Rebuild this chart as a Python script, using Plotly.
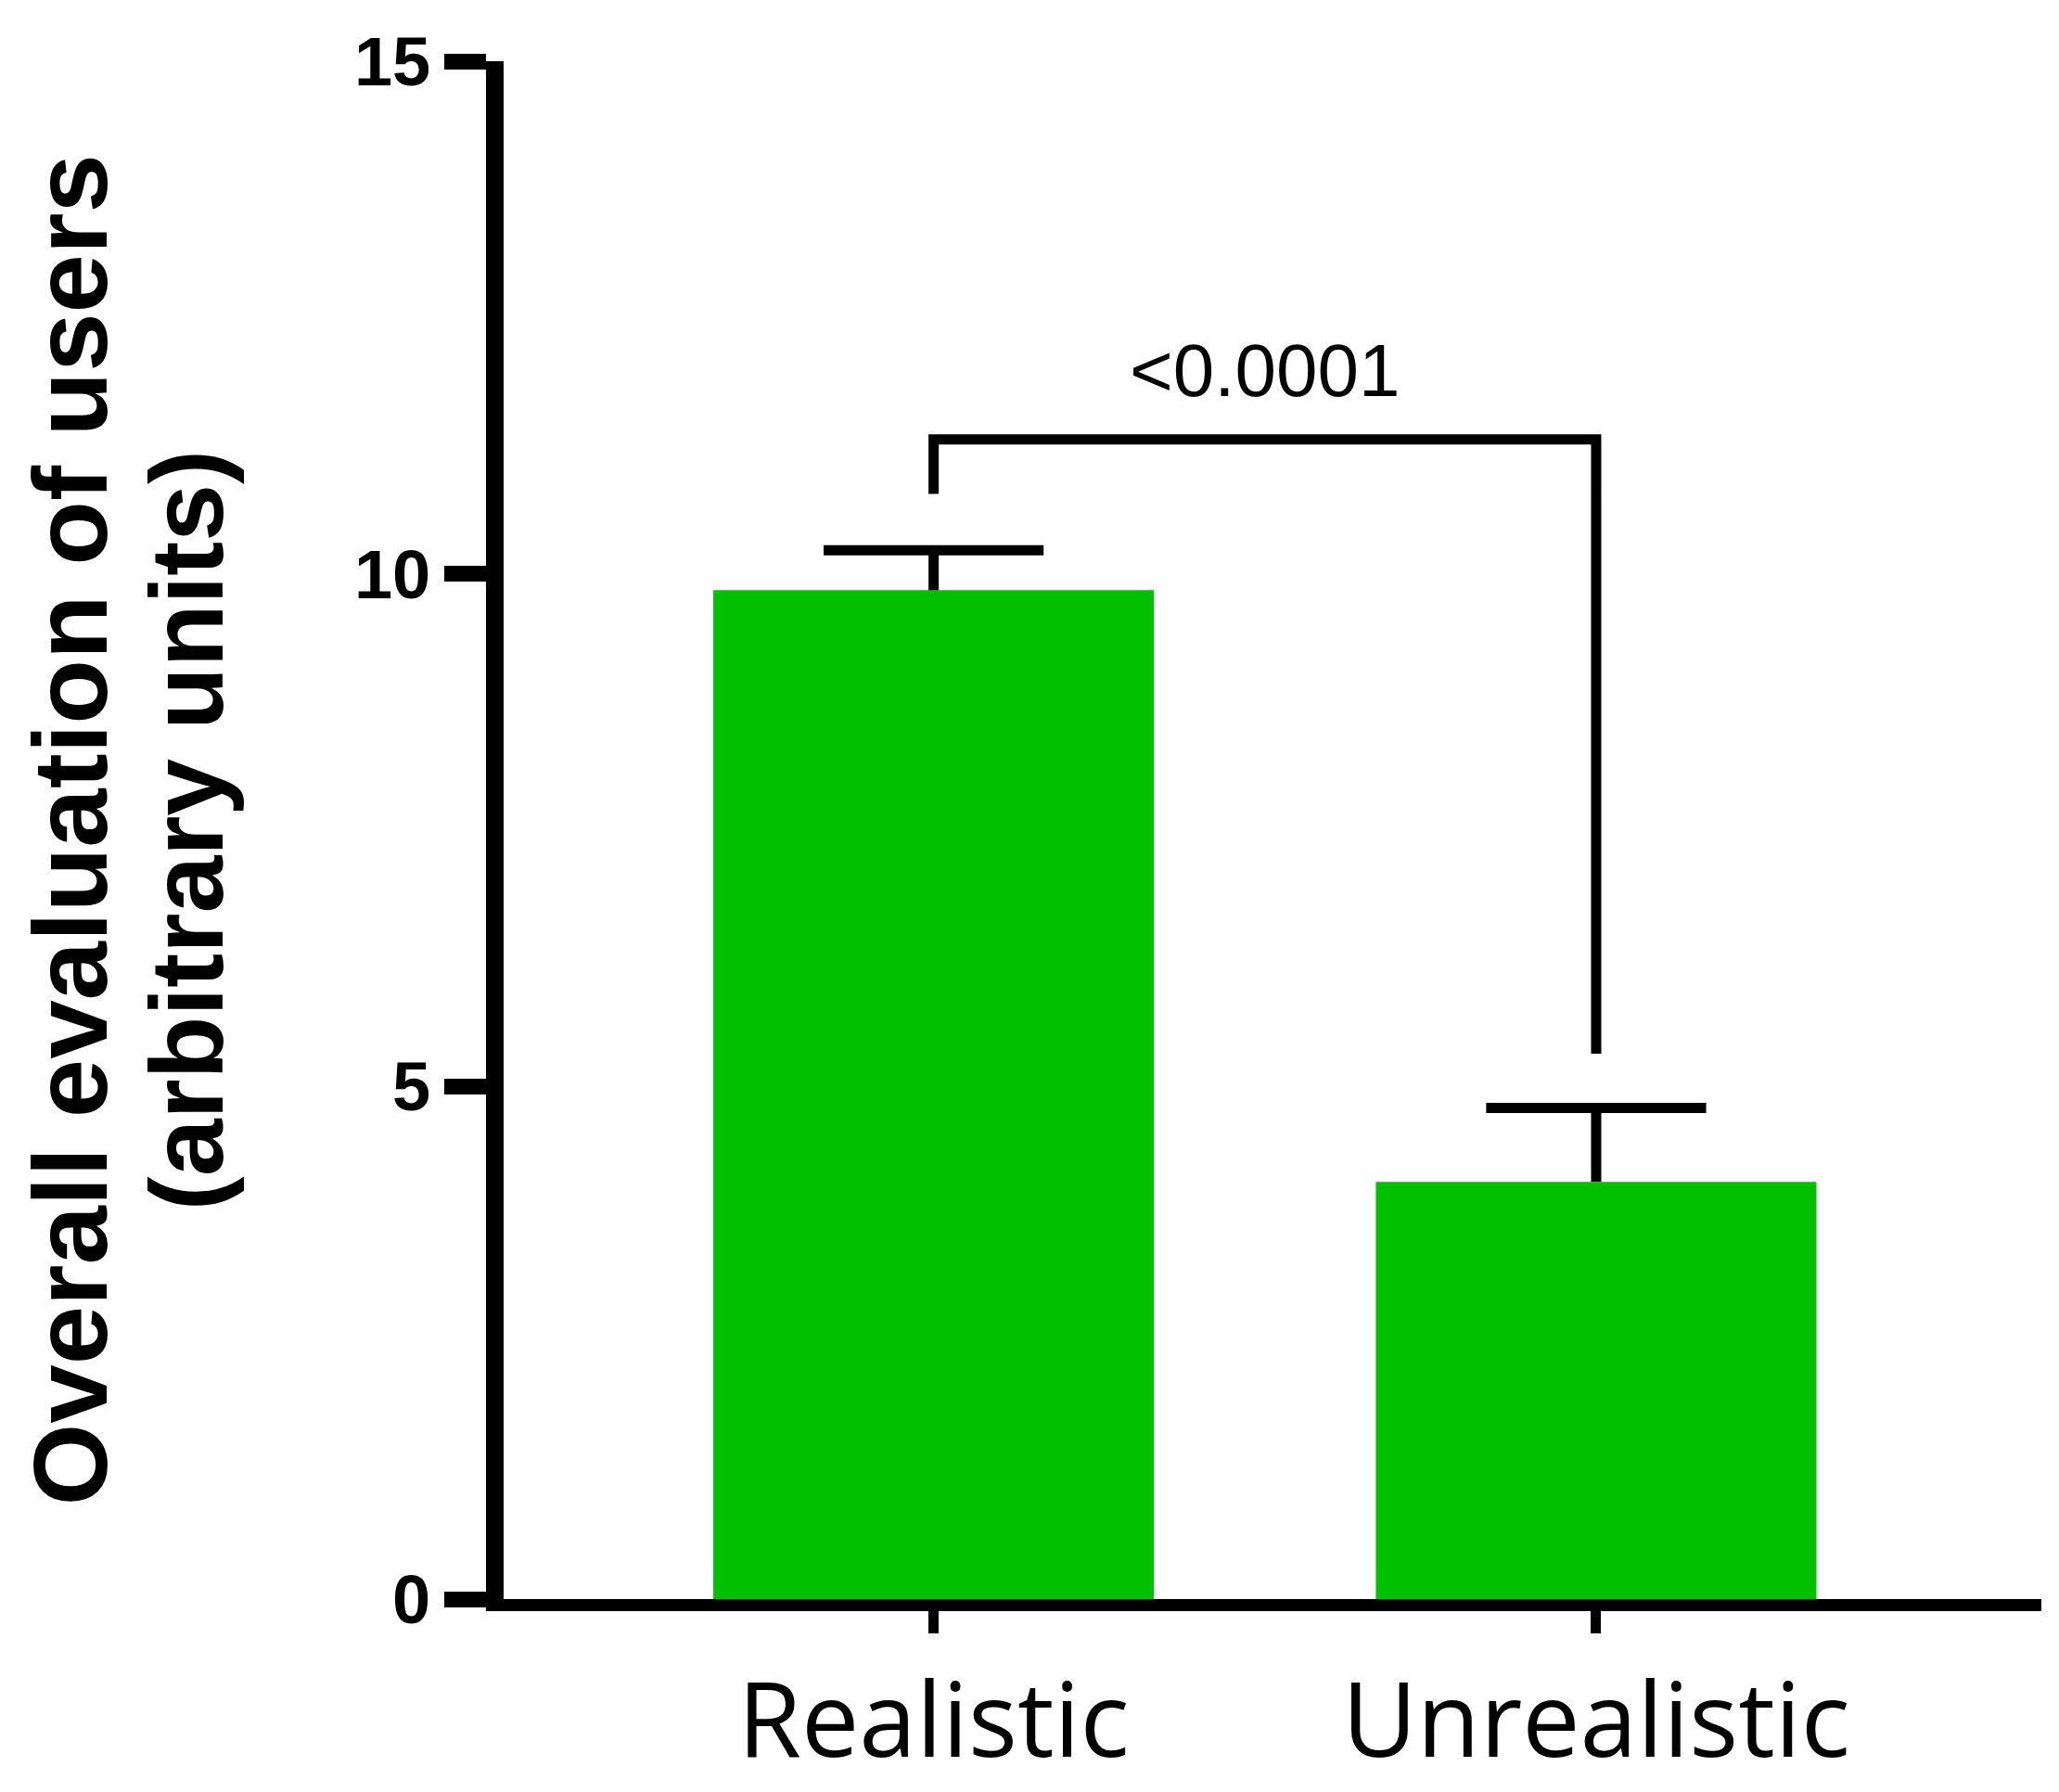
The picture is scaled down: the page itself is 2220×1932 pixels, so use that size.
import plotly.graph_objects as go

# data
groups = ["Realistic", "Unrealistic"]
means = [9.84, 4.07]
sem = [0.39, 0.72]
bracket_x = [0, 0, 1, 1]
bracket_y = [10.78, 11.31, 11.31, 5.32]
p_label = "<0.0001"
y_ticks = [0, 5, 10, 15]

green = "rgb(0,192,0)"
cap = 0.166  # half width of the error bar caps, in category units

# upper-only error bars: stem + cap for each bar, separated by None
err_x, err_y = [], []
for i, (m, s) in enumerate(zip(means, sem)):
    err_x += [i, i, None, i - cap, i + cap, None]
    err_y += [m, m + s, None, m + s, m + s, None]

fig = go.Figure()

fig.add_trace(go.Bar(
    x=[0, 1], y=means, width=0.665,
    marker=dict(color=green, line=dict(width=0)),
    showlegend=False,
))

fig.add_trace(go.Scatter(
    x=err_x, y=err_y, mode="lines", connectgaps=False,
    line=dict(color="black", width=11), showlegend=False, hoverinfo="skip",
))

fig.add_trace(go.Scatter(
    x=bracket_x, y=bracket_y, mode="lines",
    line=dict(color="black", width=11), showlegend=False, hoverinfo="skip",
))

fig.add_annotation(x=0.5, y=11.98, xref="x", yref="y", text=p_label,
                   showarrow=False, yanchor="middle",
                   font=dict(family="Liberation Sans", size=80, color="black"))

# two-line y title as separate rotated annotations
fig.add_annotation(x=-0.2820, y=0.5, xref="paper", yref="paper",
                   text="<b>Overall evaluation of users</b>",
                   textangle=-90, showarrow=False, xanchor="center", yanchor="middle",
                   font=dict(family="Liberation Sans", size=114, color="black"))
fig.add_annotation(x=-0.2055, y=0.5, xref="paper", yref="paper",
                   text="<b>(arbitrary units)</b>",
                   textangle=-90, showarrow=False, xanchor="center", yanchor="middle",
                   font=dict(family="Liberation Sans", size=111, color="black"))

fig.update_xaxes(
    range=[-0.649, 1.672], tickmode="array", tickvals=[0, 1], ticktext=groups,
    showline=True, linecolor="black", linewidth=13,
    ticks="outside", ticklen=24, tickwidth=11, tickcolor="black",
    tickfont=dict(family="Open Sans", size=111, color="black"),
    showgrid=False, zeroline=False,
)
fig.update_yaxes(
    range=[0, 15], tickmode="array", tickvals=y_ticks,
    showline=True, linecolor="black", linewidth=19,
    ticks="outside", ticklen=45, tickwidth=17, tickcolor="black",
    tickfont=dict(family="Liberation Sans", size=74, color="black", weight="bold"),
    showgrid=False, zeroline=False,
)

# page body has an 8px margin, so the figure starts 8px in from the window edge
fig.update_layout(
    width=2204, height=1924,
    margin=dict(l=535, r=11, t=58, b=208, autoexpand=False),
    plot_bgcolor="white", paper_bgcolor="white",
)

fig.write_html("out.html")
